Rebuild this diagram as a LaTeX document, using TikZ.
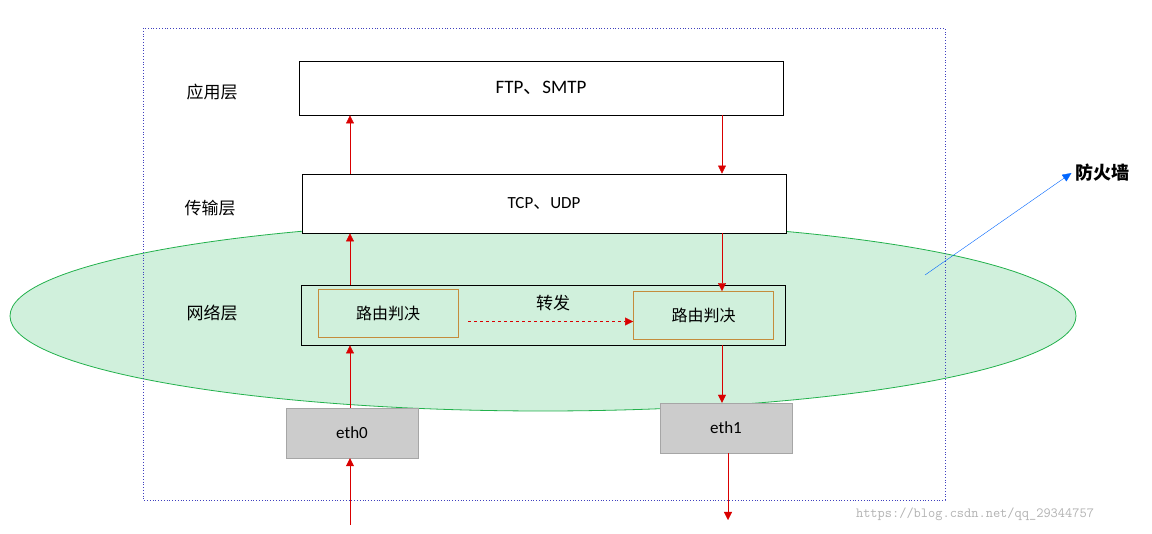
\documentclass[tikz,border=0pt]{standalone}
\usepackage{fontspec}
\setmainfont{Carlito}
\newfontfamily\cjk{Noto Sans CJK SC}
\usetikzlibrary{positioning, arrows.meta}
\definecolor{firegreen}{RGB}{34,177,76}
\definecolor{firefill}{RGB}{208,240,220}
\definecolor{routeborder}{RGB}{196,140,60}
\tikzset{
  layerbox/.style={draw=black, thick, fill=white, minimum height=54pt, inner sep=0pt},
  routebox/.style={draw=routeborder, thick, minimum width=140pt, minimum height=48pt, font=\cjk\fontsize{16}{16}\selectfont},
  ethbox/.style={draw=gray!70, fill=gray!40, minimum width=132pt, minimum height=50pt, font=\fontsize{17}{17}\selectfont},
  flow/.style={red!85!black, -{Triangle[length=8pt,width=8pt]}},
  layername/.style={font=\cjk\fontsize{17}{17}\selectfont}
}
\begin{document}
\begin{tikzpicture}[x=1pt, y=-1pt]
    \useasboundingbox (0,0) rectangle (1152,534);
    % Firewall ellipse
    \draw [firegreen, thick, fill=firefill] (543,316) ellipse [x radius=533, y radius=95];
    % Outer frame
    \draw [dotted, blue!50!gray, thick] (143,28) rectangle (945,500);

    % Layers
    \node [layername] (app) at (212,92) {应用层};
    \node [layername] (trans) at (210,208) {传输层};
    \node [layername] (net) at (212,313) {网络层};
    \node [layerbox, minimum width=484pt, font=\fontsize{19}{19}\selectfont] (ftp) at (541,88) {FTP{\cjk 、}SMTP};
    \node [layerbox, minimum width=484pt, minimum height=59pt, font=\fontsize{17}{17}\selectfont] (tcp) at (544,203.5) {TCP{\cjk 、}UDP};
    \node [draw=black, thick, minimum width=484pt, minimum height=60pt] (ip) at (543,315) {};
    \node [routebox] (route0) at (388,313.5) {路由判决};
    \node [routebox] (route1) at (703.5,315.5) {路由判决};
    \node [font=\cjk\fontsize{17}{17}\selectfont] (fwd) at (553,303) {转发};
    \draw [flow, dashed, thin] (route0.east) ++(10,8) coordinate (f0) -- (route1.west |- f0);

    % Interfaces
    \node [ethbox] (eth0) at (352,433) {eth0};
    \node [ethbox] (eth1) at (726,428) {eth1};
    \coordinate (in) at (350,525);
    \coordinate (out) at (728,520);
    \coordinate (down) at (722,0);

    % Upward path
    \draw [flow] (in) -- (in |- eth0.south);
    \draw [flow] (eth0.north -| in) -- (in |- ip.south);
    \draw [flow] (ip.north -| in) -- (in |- tcp.south);
    \draw [flow] (tcp.north -| in) -- (in |- ftp.south);
    % Downward path
    \draw [flow] (ftp.south -| down) -- (tcp.north -| down);
    \draw [flow] (tcp.south -| down) -- (route1.north -| down);
    \draw [flow] (ip.south -| down) -- (eth1.north -| down);
    \draw [flow] (eth1.south -| out) -- (out);

    % Firewall label
    \node [font=\cjk\bfseries\fontsize{18}{18}\selectfont] (fw) at (1102,173) {防火墙};
    \draw [blue!60!cyan, -{Triangle[length=9pt,width=8pt]}] (925,275) -- (fw.west);
    \node [gray!60, font=\ttfamily\fontsize{14}{14}\selectfont] (mark) at (975,514) {https://blog.csdn.net/qq\_29344757};
\end{tikzpicture}
\end{document}
